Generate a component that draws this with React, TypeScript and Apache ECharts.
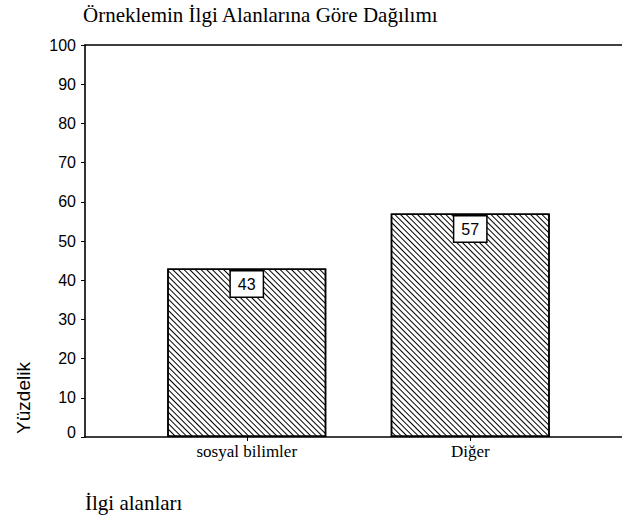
import React, { useEffect, useRef } from "react";
import * as echarts from "echarts";

const categories = ["sosyal bilimler", "Diğer"];
const values = [43, 57];
const yTicks = [0, 100, 10]; // min, max, interval
const titleText = "Örneklemin İlgi Alanlarına Göre Dağılımı";
const yAxisTitle = "Yüzdelik";
const xAxisTitle = "İlgi alanları";

const SANS = "'Liberation Sans', Arial, sans-serif";
const SERIF = "'Liberation Serif', 'Times New Roman', serif";

export default function App() {
  const ref = useRef<HTMLDivElement>(null);
  useEffect(() => {
    if (!ref.current) return;
    const chart = echarts.init(ref.current, undefined, { renderer: "svg" });
    const top = 45;
    const height = 392;
    chart.setOption({
      animation: false,
      backgroundColor: "#fff",
      aria: { enabled: true, decal: { show: true } },
      grid: [
        { left: 85, top, width: 537, height, containLabel: false },
        { left: 135, top, width: 447, height, containLabel: false },
      ],
      xAxis: [
        {
          type: "value", gridIndex: 0, position: "bottom", min: 0, max: 1,
          axisLine: { show: true, lineStyle: { color: "#000", width: 1.6 } },
          axisTick: { show: false }, axisLabel: { show: false }, splitLine: { show: false },
        },
        {
          type: "value", gridIndex: 0, position: "top", min: 0, max: 1,
          axisLine: { show: true, lineStyle: { color: "#000", width: 1.6 } },
          axisTick: { show: false }, axisLabel: { show: false }, splitLine: { show: false },
        },
        {
          type: "category", gridIndex: 1, data: categories, position: "bottom",
          axisLine: { show: false },
          axisTick: { show: true, alignWithLabel: true, length: 4, lineStyle: { color: "#000", width: 1 } },
          axisLabel: { color: "#000", fontFamily: SERIF, fontSize: 17, margin: 6 },
          splitLine: { show: false },
        },
      ],
      yAxis: [
        {
          type: "value", gridIndex: 0, min: yTicks[0], max: yTicks[1], interval: yTicks[2],
          axisLine: { show: true, lineStyle: { color: "#000", width: 1.6 } },
          axisTick: { show: true, length: 4, lineStyle: { color: "#000", width: 1 } },
          axisLabel: {
            color: "#000", fontFamily: SANS, fontSize: 16, margin: 9,
            formatter: (v: number) => (v === 0 ? "{z|0}" : String(v)),
            rich: { z: { fontFamily: SANS, fontSize: 16, color: "#000", padding: [0, 0, 10, 0] } },
          },
          splitLine: { show: false },
        },
        {
          type: "value", gridIndex: 1, min: yTicks[0], max: yTicks[1], interval: yTicks[2],
          show: false,
        },
      ],
      series: [
        {
          type: "bar",
          xAxisIndex: 2,
          yAxisIndex: 1,
          data: values,
          barWidth: 159,
          itemStyle: {
            color: "#fff",
            borderColor: "#000",
            borderWidth: 1.5,
            decal: {
              symbol: "rect",
              symbolSize: 1,
              color: "#000",
              dashArrayX: [1, 0],
              dashArrayY: [1, 3],
              rotation: Math.PI / 4,
            },
          },
          label: {
            show: true,
            position: "insideTop",
            distance: 3,
            color: "#000",
            fontFamily: SANS,
            fontSize: 16,
            backgroundColor: "#fff",
            borderColor: "#000",
            borderWidth: 1.5,
            padding: [5, 7, 4, 7],
          },
        },
      ],
      graphic: [
        {
          type: "text", left: 83, top: 4,
          style: { text: titleText, font: `21px ${SERIF}`, fill: "#000" },
        },
        {
          type: "text", left: 85, top: 492,
          style: { text: xAxisTitle, font: `21px ${SERIF}`, fill: "#000" },
        },
        {
          type: "text", x: 23, y: 398, rotation: Math.PI / 2,
          style: { text: yAxisTitle, font: `19px ${SANS}`, fill: "#000", textAlign: "center", textVerticalAlign: "middle" },
        },
      ],
    });
    return () => chart.dispose();
  }, []);
  return (
    <div
      ref={ref}
      style={{ position: "fixed", left: 0, top: 0, width: 622, height: 522, background: "#fff" }}
    />
  );
}
